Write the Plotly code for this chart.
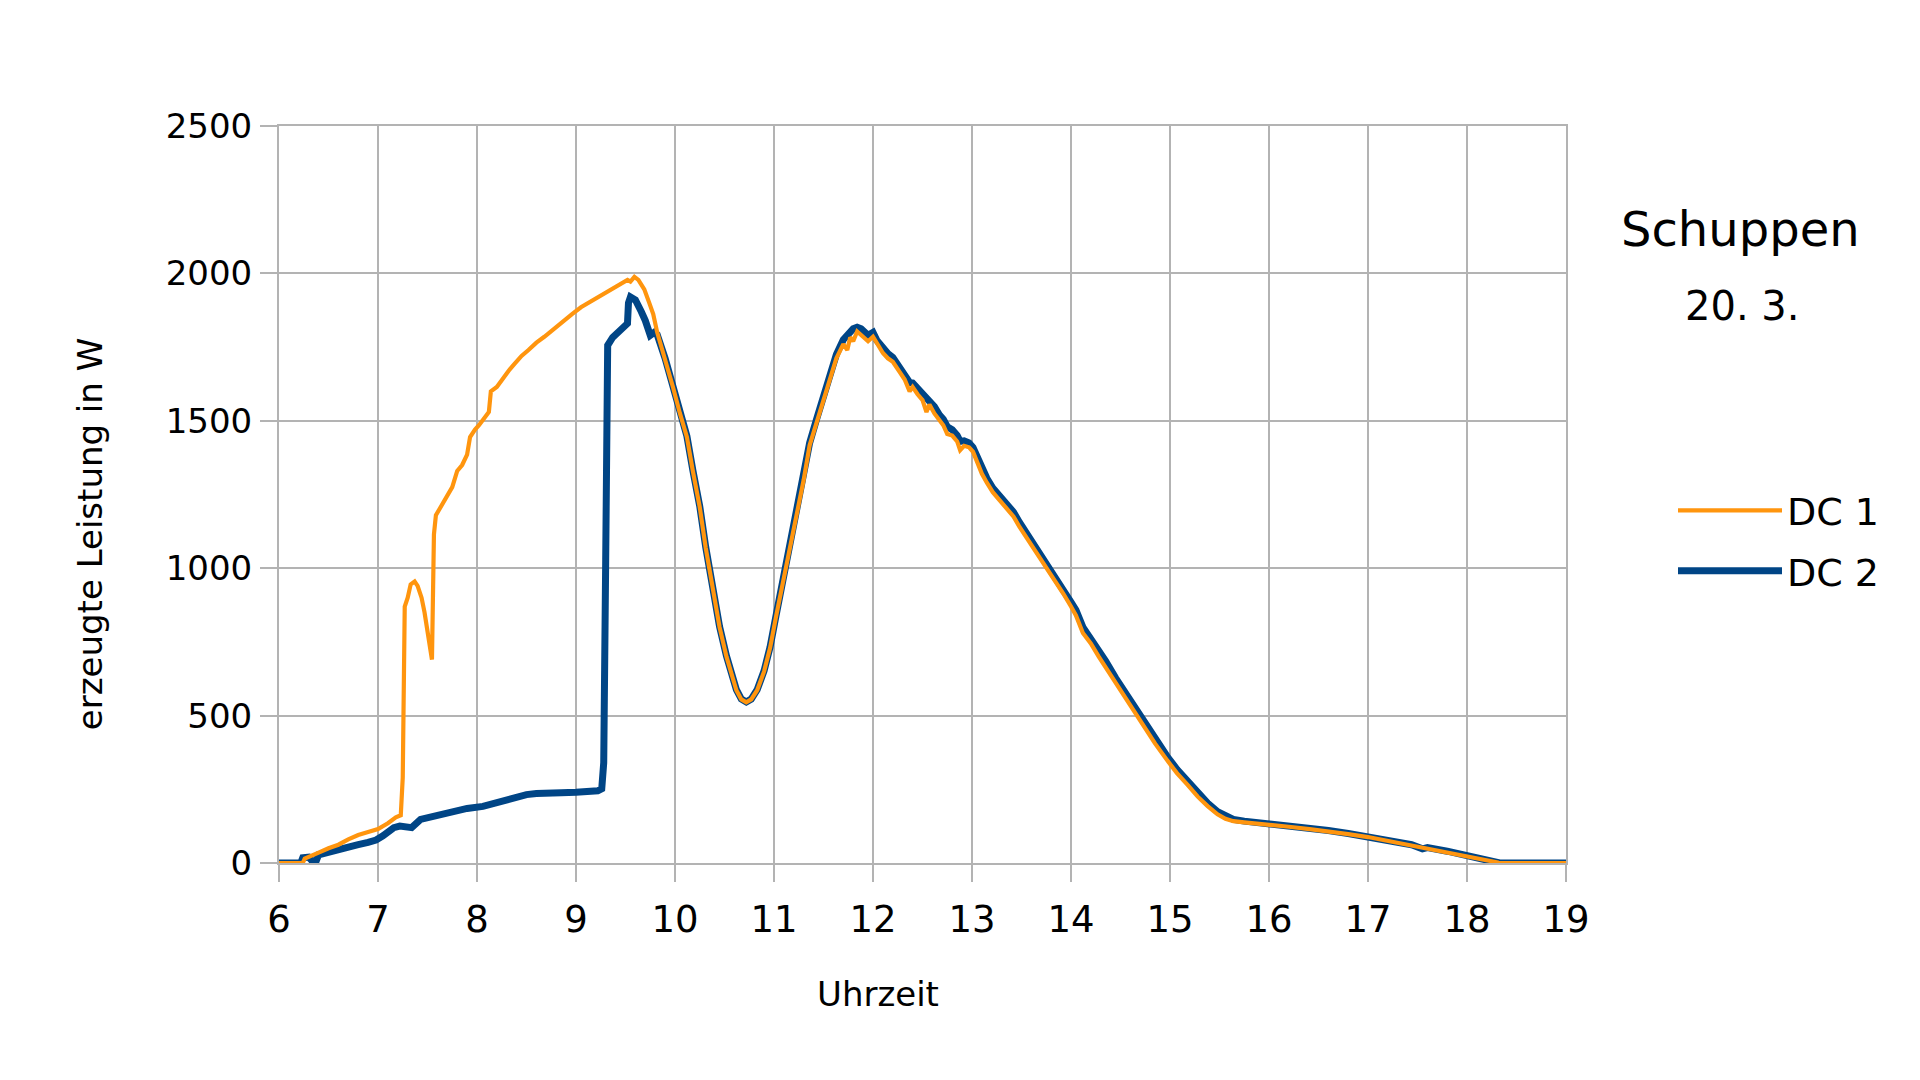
import plotly.graph_objects as go

# ---- data (hours of day, generated power in W) ----
time_dc1 = [6.00, 6.24, 6.26, 6.30, 6.40, 6.50, 6.60, 6.70, 6.80, 6.90, 7.00, 7.10, 7.18, 7.23,
            7.25, 7.27, 7.30, 7.33, 7.37, 7.40, 7.44, 7.47, 7.545, 7.565, 7.585, 7.62, 7.66, 7.72,
            7.75, 7.80, 7.85, 7.90, 7.93, 7.98, 8.02, 8.12, 8.14, 8.20, 8.26, 8.32, 8.37, 8.45,
            8.52, 8.60, 8.68, 8.75, 8.85, 8.96, 9.05, 9.15, 9.20, 9.28, 9.37, 9.45, 9.52, 9.55,
            9.59, 9.63, 9.69, 9.74, 9.78, 9.82, 9.90, 9.98, 10.05, 10.12, 10.18, 10.25, 10.31,
            10.38, 10.45, 10.52, 10.58, 10.62, 10.67, 10.72, 10.77, 10.83, 10.90, 10.96, 11.02,
            11.09, 11.16, 11.23, 11.30, 11.36, 11.43, 11.50, 11.56, 11.63, 11.70, 11.74, 11.77,
            11.80, 11.84, 11.88, 11.95, 12.00, 12.04, 12.10, 12.15, 12.20, 12.27, 12.32, 12.37,
            12.40, 12.45, 12.50, 12.54, 12.57, 12.62, 12.67, 12.71, 12.75, 12.80, 12.85, 12.88,
            12.92, 12.97, 13.01, 13.05, 13.10, 13.15, 13.21, 13.28, 13.35, 13.42, 13.48, 13.55,
            13.62, 13.70, 13.78, 13.85, 13.92, 14.00, 14.05, 14.12, 14.20, 14.28, 14.35, 14.45,
            14.55, 14.66, 14.75, 14.85, 14.97, 15.07, 15.18, 15.28, 15.38, 15.48, 15.56, 15.64,
            15.75, 15.90, 16.00, 16.20, 16.41, 16.60, 16.80, 17.00, 17.20, 17.44, 17.60, 17.80,
            18.00, 18.20, 18.31, 18.32, 19.00]
dc1_w = [0, 0, 15, 20, 35, 50, 62, 80, 95, 105, 115, 135, 155, 162,
         290, 870, 900, 945, 955, 940, 900, 850, 690, 1115, 1180, 1200, 1225, 1260,
         1275, 1330, 1350, 1385, 1445, 1470, 1485, 1530, 1600, 1615, 1645, 1670, 1690, 1720,
         1740, 1765, 1785, 1805, 1835, 1862, 1885, 1905, 1915, 1930, 1948, 1965, 1978, 1972,
         1988, 1978, 1946, 1900, 1862, 1800, 1710, 1614, 1525, 1445, 1330, 1207, 1070,
         925, 800, 700, 625, 586, 555, 545, 555, 586, 650, 729, 835,
         952, 1065, 1177, 1300, 1417, 1495, 1573, 1640, 1712, 1760, 1740, 1783,
         1770, 1803, 1790, 1770, 1785, 1760, 1730, 1712, 1700, 1665, 1640, 1600,
         1615, 1590, 1570, 1530, 1555, 1525, 1500, 1485, 1455, 1450, 1430, 1400,
         1415, 1410, 1395, 1360, 1320, 1290, 1258, 1230, 1200, 1175, 1140, 1105,
         1065, 1025, 990, 955, 915, 870, 840, 780, 745, 700, 665, 610,
         560, 503, 455, 405, 349, 305, 264, 225, 193, 165, 150, 142,
         138, 134, 130, 123, 115, 108, 98, 88, 75, 60, 50, 38,
         24, 12, 2, 0, 0]

time_dc2 = [6.00, 6.22, 6.24, 6.30, 6.34, 6.37, 6.40, 6.50, 6.60, 6.71, 6.80, 6.90, 6.98, 7.05,
            7.10, 7.16, 7.22, 7.30, 7.34, 7.43, 7.55, 7.70, 7.80, 7.90, 8.06, 8.20, 8.30, 8.42,
            8.50, 8.60, 8.74, 8.85, 9.00, 9.14, 9.22, 9.26, 9.28, 9.30, 9.32, 9.37, 9.42, 9.47,
            9.52, 9.53, 9.55, 9.60, 9.63, 9.66, 9.70, 9.73, 9.75, 9.79, 9.82, 9.90, 9.98, 10.05,
            10.12, 10.18, 10.25, 10.31, 10.38, 10.45, 10.52, 10.58, 10.62, 10.67, 10.72, 10.77,
            10.83, 10.90, 10.96, 11.02, 11.09, 11.16, 11.23, 11.30, 11.36, 11.43, 11.50, 11.56,
            11.63, 11.70, 11.74, 11.77, 11.80, 11.84, 11.88, 11.95, 12.00, 12.04, 12.10, 12.15,
            12.20, 12.27, 12.32, 12.37, 12.40, 12.45, 12.50, 12.54, 12.57, 12.62, 12.67, 12.71,
            12.75, 12.80, 12.85, 12.88, 12.92, 12.97, 13.01, 13.05, 13.10, 13.15, 13.21, 13.28,
            13.35, 13.42, 13.48, 13.55, 13.62, 13.70, 13.78, 13.85, 13.92, 14.00, 14.05, 14.12,
            14.20, 14.28, 14.35, 14.45, 14.55, 14.66, 14.75, 14.85, 14.97, 15.07, 15.18, 15.28,
            15.38, 15.48, 15.56, 15.64, 15.75, 15.90, 16.00, 16.20, 16.41, 16.60, 16.80, 17.00,
            17.20, 17.44, 17.55, 17.60, 17.80, 18.00, 18.20, 18.31, 18.33, 19.00]
dc2_w = [0, 0, 18, 20, 5, 2, 28, 35, 45, 54, 62, 70, 78, 92,
         105, 120, 125, 125, 120, 148, 158, 168, 178, 185, 192, 205, 215, 227,
         232, 236, 234, 238, 240, 240, 245, 252, 340, 1030, 1756, 1783, 1800, 1815,
         1830, 1900, 1920, 1910, 1895, 1870, 1840, 1810, 1790, 1800, 1792, 1712, 1616, 1528,
         1448, 1333, 1210, 1072, 928, 802, 702, 627, 588, 556, 546, 556,
         588, 652, 732, 838, 956, 1070, 1183, 1306, 1425, 1505, 1585, 1655,
         1725, 1775, 1790, 1805, 1812, 1817, 1812, 1790, 1800, 1772, 1745, 1728,
         1715, 1680, 1655, 1630, 1628, 1610, 1590, 1575, 1570, 1548, 1520, 1505,
         1480, 1470, 1450, 1430, 1432, 1425, 1410, 1378, 1338, 1305, 1272, 1245,
         1215, 1190, 1155, 1120, 1080, 1040, 1005, 970, 930, 885, 858, 800,
         760, 722, 685, 628, 575, 518, 470, 420, 362, 318, 275, 236,
         203, 174, 158, 148, 142, 137, 133, 126, 118, 110, 100, 90,
         78, 62, 48, 52, 40, 26, 14, 4, 0, 0]

x_ticks = list(range(6, 20))
y_ticks = [0, 500, 1000, 1500, 2000, 2500]

C_DC1 = "#ff950e"
C_DC2 = "#004586"
GRID = "#b3b3b3"
FONT = "DejaVu Sans"

fig = go.Figure()
fig.add_trace(go.Scatter(x=time_dc2, y=dc2_w, mode="lines", name="DC 2",
                         line=dict(color=C_DC2, width=7), legendrank=2, legendgroup="b"))
fig.add_trace(go.Scatter(x=time_dc1, y=dc1_w, mode="lines", name="DC 1",
                         line=dict(color=C_DC1, width=4.2), legendrank=1, legendgroup="a"))

# target plot-area position on the 1920x1080 page
L, R, T, B = 279, 1566, 125.5, 863
W_PLOT = R - L
H_PLOT = B - T
OFF = 8  # browser default body margin
FIG_W, FIG_H = 1920 - 2 * OFF, 1080 - 2 * OFF

def px(xp):
    return (xp - L) / W_PLOT

def py(yp):
    return (B - yp) / H_PLOT

axis_common = dict(showgrid=True, gridcolor=GRID, gridwidth=2,
                   showline=True, linecolor=GRID, linewidth=2, mirror=True,
                   ticks="outside", ticklen=17, tickcolor=GRID, tickwidth=2,
                   zeroline=False, color="black")

fig.update_xaxes(range=[6, 19], tickvals=x_ticks, ticktext=[str(v) for v in x_ticks],
                 tickfont=dict(size=37, family=FONT, color="black"),
                 ticklabelstandoff=6, **axis_common)
fig.update_yaxes(range=[0, 2500], tickvals=y_ticks, ticktext=[str(v) for v in y_ticks],
                 tickfont=dict(size=34, family=FONT, color="black"),
                 ticklabelstandoff=1, **axis_common)

annotations = [
    dict(text="Schuppen", x=px(1740), y=py(229), font=dict(size=48)),
    dict(text="20. 3.", x=px(1742), y=py(306), font=dict(size=40)),
    dict(text="Uhrzeit", x=px(878), y=py(994), font=dict(size=34)),
    dict(text="erzeugte Leistung in W", x=px(90), y=py(534), font=dict(size=34), textangle=-90),
]
for a in annotations:
    a.update(xref="paper", yref="paper", showarrow=False, xanchor="center", yanchor="middle")
    a["font"].update(family=FONT, color="black")

fig.update_layout(
    width=FIG_W, height=FIG_H,
    margin=dict(l=L - OFF, r=FIG_W - (R - OFF), t=T - OFF, b=FIG_H - (B - OFF), pad=0),
    paper_bgcolor="white", plot_bgcolor="white",
    font=dict(family=FONT, color="black"),
    showlegend=True,
    legend=dict(x=px(1673), y=py(479), xanchor="left", yanchor="top",
                font=dict(size=38, family=FONT, color="black"),
                itemwidth=104, bgcolor="rgba(0,0,0,0)", borderwidth=0,
                tracegroupgap=8, traceorder="grouped"),
    annotations=annotations,
)

fig.write_html("out.html")
